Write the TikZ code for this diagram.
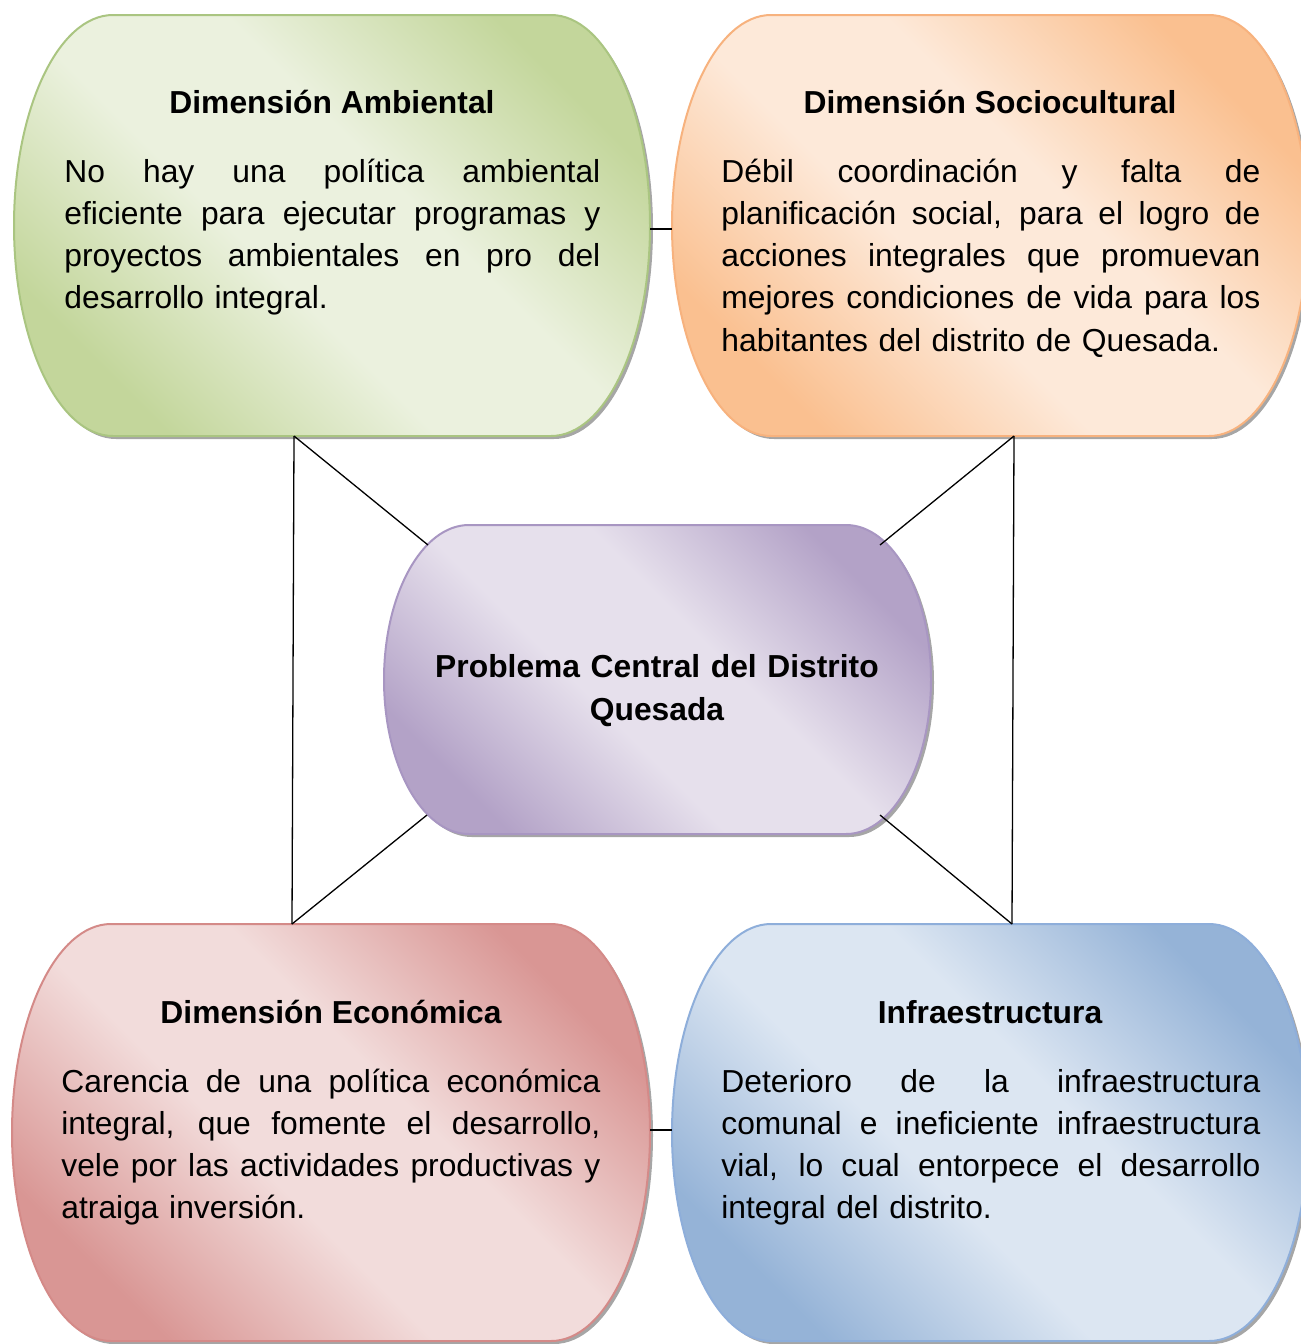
\documentclass[tikz,border=0pt]{standalone}
\usepackage{fontspec}
\setmainfont{Liberation Sans}
\definecolor{gdark}{HTML}{C3D69B}
\definecolor{glight}{HTML}{EBF1DE}
\definecolor{gborder}{HTML}{AAC581}
\definecolor{odark}{HTML}{FAC090}
\definecolor{olight}{HTML}{FDE9D9}
\definecolor{oborder}{HTML}{F7B27E}
\definecolor{pdark}{HTML}{B3A2C7}
\definecolor{plight}{HTML}{E6E0EC}
\definecolor{pborder}{HTML}{A896C2}
\definecolor{rdark}{HTML}{D99694}
\definecolor{rlight}{HTML}{F2DCDB}
\definecolor{rborder}{HTML}{D48A88}
\definecolor{bdark}{HTML}{95B3D7}
\definecolor{blight}{HTML}{DCE6F2}
\definecolor{bborder}{HTML}{8EAEDA}
\definecolor{shadowc}{HTML}{A6A6A6}
\newcommand\mkshade[3]{%
  \pgfdeclareverticalshading{#1}{100bp}{color(0bp)=(#2); color(25bp)=(#2);
    color(43bp)=(#3); color(57bp)=(#3); color(75bp)=(#2); color(100bp)=(#2)}}
\mkshade{gshade}{gdark}{glight}
\mkshade{oshade}{odark}{olight}
\mkshade{pshade}{pdark}{plight}
\mkshade{rshade}{rdark}{rlight}
\mkshade{bshade}{bdark}{blight}
\newlength\bw
\newcommand\jl[1]{\noindent\hbox to \bw{\spaceskip=\fontdimen2\font plus 1fil\relax #1}}
% #1 style, #2 x left, #3 y top, #4 x right, #5 y bottom, #6 corner x radius
\newcommand\barrelshape[6]{%
  \pgfmathsetmacro\bry{(#5-#3)/2}%
  \begin{scope}[shift={(3,-3)}]
    \fill[shadowc] ({#2+#6},-#3) -- ({#4-#6},-#3)
      arc[start angle=90,end angle=-90,x radius=#6,y radius=\bry]
      -- ({#2+#6},-#5)
      arc[start angle=270,end angle=90,x radius=#6,y radius=\bry] -- cycle;
  \end{scope}
  \path[#1] ({#2+#6},-#3) -- ({#4-#6},-#3)
      arc[start angle=90,end angle=-90,x radius=#6,y radius=\bry]
      -- ({#2+#6},-#5)
      arc[start angle=270,end angle=90,x radius=#6,y radius=\bry] -- cycle;
}
\begin{document}
\begin{tikzpicture}[x=0.5pt,y=0.5pt,
  grad/.style 2 args={draw=#2,line width=1pt,shade,shading=#1,shading angle=-45},
  conn/.style={draw=black,line width=0.65pt},
  ttl/.style={font=\fontsize{15.9pt}{21.5pt}\selectfont\bfseries,anchor=base,inner sep=0pt},
  body/.style={font=\fontsize{15.9pt}{21.15pt}\selectfont,anchor=base west,inner sep=0pt,align=left,text width=#1},
]
\useasboundingbox (0,0) rectangle (1301,-1344);

% shapes
\barrelshape{grad={gshade}{gborder}}{14}{15}{650}{436}{99}
\barrelshape{grad={oshade}{oborder}}{672}{15}{1308}{436}{99}
\barrelshape{grad={rshade}{rborder}}{12}{924}{650}{1341}{99}
\barrelshape{grad={bshade}{bborder}}{672}{924}{1308}{1341}{99}
\barrelshape{grad={pshade}{pborder}}{384}{525}{931}{834}{85}

% connector end points
\coordinate (gS) at (294,-436);
\coordinate (rN) at (292,-924);
\coordinate (oS) at (1014,-436);
\coordinate (bN) at (1012,-924);
\coordinate (pNW) at (428,-545);
\coordinate (pSW) at (427,-815);
\coordinate (pNE) at (880,-545);
\coordinate (pSE) at (880,-815);
\coordinate (gE) at (650,-229);
\coordinate (oW) at (672,-229);
\coordinate (rE) at (650,-1130);
\coordinate (bW) at (672,-1130);

\draw[conn] (gS) -- (rN);
\draw[conn] (gS) -- (pNW);
\draw[conn] (rN) -- (pSW);
\draw[conn] (oS) -- (bN);
\draw[conn] (oS) -- (pNE);
\draw[conn] (bN) -- (pSE);
\draw[conn] (gE) -- (oW);
\draw[conn] (rE) -- (bW);

% texts
\node[ttl] (gT) at (332,-113) {Dimensión Ambiental};
\node[body=268pt] (gB) at (64,-182)
  {\setlength\bw{268pt}%
   \jl{No hay una política ambiental}\\
   \jl{eficiente para ejecutar programas y}\\
   \jl{proyectos ambientales en pro del}\\
   desarrollo integral.};

\node[ttl] (oT) at (990,-113) {Dimensión Sociocultural};
\node[body=269.5pt] (oB) at (721,-182)
  {\setlength\bw{269.5pt}%
   \jl{Débil coordinación y falta de}\\
   \jl{planificación social, para el logro de}\\
   \jl{acciones integrales que promuevan}\\
   \jl{mejores condiciones de vida para los}\\
   habitantes del distrito de Quesada.};

\node[ttl,text width=270pt,align=center] (pT) at (657,-677)
  {Problema Central del Distrito\\Quesada};

\node[ttl] (rT) at (331,-1023) {Dimensión Económica};
\node[body=269.5pt] (rB) at (61,-1092)
  {\setlength\bw{269.5pt}%
   \jl{Carencia de una política económica}\\
   \jl{integral, que fomente el desarrollo,}\\
   \jl{vele por las actividades productivas y}\\
   atraiga inversión.};

\node[ttl] (bT) at (990,-1023) {Infraestructura};
\node[body=269.5pt] (bB) at (721,-1092)
  {\setlength\bw{269.5pt}%
   \jl{Deterioro de la infraestructura}\\
   \jl{comunal e ineficiente infraestructura}\\
   \jl{vial, lo cual entorpece el desarrollo}\\
   integral del distrito.};
\end{tikzpicture}
\end{document}
